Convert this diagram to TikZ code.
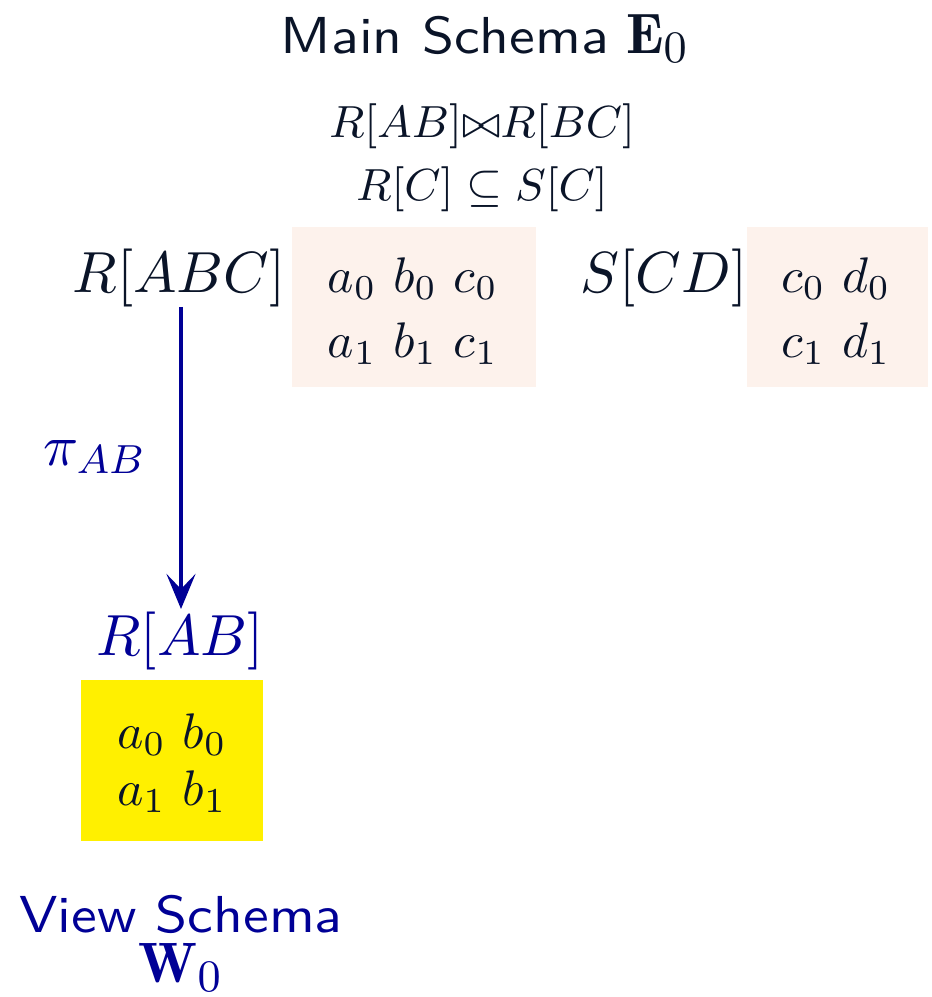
\RequirePackage{fix-cm}
\documentclass[tikz,border=0pt]{standalone}
\usepackage{fontspec}
\usepackage{graphicx}
\usetikzlibrary{arrows.meta}
\definecolor{ink}{RGB}{10,20,40}
\definecolor{vblue}{RGB}{0,0,150}
\definecolor{tpink}{RGB}{253,242,236}
\definecolor{tyellow}{RGB}{255,240,0}
\DeclareMathSizes{11.4}{11.4}{9}{7}
\newcommand{\bigmath}[1]{{\fontsize{11.4}{12}\selectfont$#1$}}
\newcommand{\wide}[1]{\scalebox{1.11}[1]{#1}}
\tikzset{
  title/.style={font=\sffamily\fontsize{10.4}{12}\selectfont, text=ink, inner sep=0pt, transform shape},
  rel/.style={font=\fontsize{11.6}{13}\selectfont, text=ink, inner sep=0pt, transform shape},
  cons/.style={font=\fontsize{9}{10}\selectfont, text=ink, inner sep=0pt, transform shape},
  tuples/.style={font=\fontsize{10}{12}\selectfont, text=ink, inner sep=0pt, transform shape},
}
\begin{document}
\begin{tikzpicture}[x=0.2pt,y=-0.2pt,scale=5]
\useasboundingbox (0,0) rectangle (931,997);
\node[title, anchor=base] (main) at (485,53) {\wide{Main Schema} \bigmath{\mathbf{E}_0}};
\node[cons, anchor=base] (c1) at (482,137) {$R[AB]{\bowtie}R[BC]$};
\node[cons, anchor=base] (c2) at (482,200) {$R[C] \subseteq S[C]$};
\node[rel, anchor=base] (rabc) at (179,292) {$R[ABC]$};
\node[rel, anchor=base] (scd) at (664,292) {$S[CD]$};
\fill[tpink] (292,227) rectangle (536,387);
\fill[tpink] (747,227) rectangle (928,387);
\node[tuples, anchor=base] (t1a) at (413,292) {$a_0\ b_0\ c_0$};
\node[tuples, anchor=base] (t1b) at (413,357) {$a_1\ b_1\ c_1$};
\node[tuples, anchor=base] (t2a) at (836,292) {$c_0\ d_0$};
\node[tuples, anchor=base] (t2b) at (836,357) {$c_1\ d_1$};
\node[rel, text=vblue, anchor=base] (rab) at (180,655) {$R[AB]$};
\coordinate (astart) at (181,307);
\coordinate (aend) at (181,609);
\draw[vblue, line width=4pt, -{Stealth[length=35pt,width=29pt,inset=15pt]}] (astart) -- (aend);
\node[rel, text=vblue, anchor=base] (pi) at (95,465) {$\pi_{AB}$};
\fill[tyellow] (81,680) rectangle (263,841);
\node[tuples, anchor=base] (t3a) at (172,748) {$a_0\ b_0$};
\node[tuples, anchor=base] (t3b) at (172,805) {$a_1\ b_1$};
\node[title, text=vblue, anchor=base] (view) at (181,932) {\wide{View Schema}};
\node[title, text=vblue, anchor=base] (w0) at (181,982) {\bigmath{\mathbf{W}_0}};
\end{tikzpicture}
\end{document}
